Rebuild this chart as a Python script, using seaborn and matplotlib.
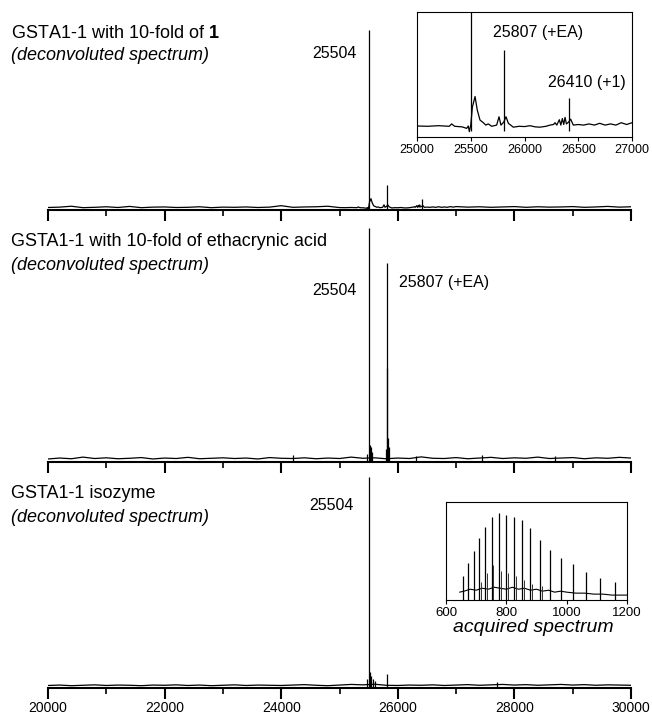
import numpy as np
import pandas as pd
import seaborn as sns
import matplotlib.pyplot as plt
from matplotlib.ticker import MultipleLocator

W, H = 652, 717

### data (intensities in % of the 25504 peak)
# panel 1: GSTA1-1 with 10-fold of 1 (detailed between 25000 and 27000 for the inset)
p1_mass = [20000, 20200, 20400, 20600, 20800, 21000, 21200, 21400, 21600, 21800,
           22000, 22200, 22400, 22600, 22800, 23000, 23200, 23400, 23600, 23800,
           24000, 24200, 24400, 24600, 24800,
           25000, 25100, 25200, 25300, 25322, 25350, 25420, 25462, 25477, 25487,
           25500, 25515, 25540, 25561, 25586, 25617, 25640, 25663, 25695, 25741,
           25763, 25781, 25807, 25828, 25850, 25896, 25950, 26000, 26051, 26100,
           26144, 26200, 26237, 26270, 26284, 26300, 26324, 26338, 26352, 26365,
           26377, 26390, 26410, 26429, 26454, 26500, 26550, 26600, 26650, 26700,
           26750, 26800, 26850, 26900, 26950, 27000,
           27200, 27400, 27600, 27800, 28000, 28200, 28400, 28600, 28800, 29000,
           29200, 29400, 29600, 29800, 30000]
p1_int = [0.9, 1.1, 1.6, 0.8, 1.0, 1.3, 0.9, 1.5, 0.8, 1.1,
          1.2, 0.9, 1.0, 1.3, 0.8, 1.1, 1.0, 1.2, 0.9, 1.1,
          1.9, 1.0, 1.2, 1.3, 1.6,
          0.85, 0.8, 0.9, 0.8, 1.2, 0.8, 0.7, 0.45, 0.85, -0.1,
          1.0, 4.0, 5.8, 3.5, 1.85, 1.4, 1.0, 1.2, 0.8, 1.0,
          2.4, 1.0, 1.5, 2.4, 1.3, 0.65, 0.8, 0.75, 0.9, 0.7,
          0.65, 0.8, 1.0, 1.1, 1.4, 1.0, 1.9, 1.0, 2.1, 1.1,
          2.3, 1.2, 1.5, 2.0, 1.0, 1.1, 1.0, 1.2, 1.0, 1.3,
          1.0, 1.2, 1.0, 1.4, 1.1, 1.4,
          1.1, 1.3, 1.0, 1.2, 1.4, 1.0, 1.3, 1.1, 1.2, 1.4,
          1.0, 1.2, 1.5, 1.1, 1.3]
p1_peak_mass = [25504, 25807, 26410]
p1_peak_int = [100, 13.6, 5.5]

# panels 2 and 3 share a 200 Da baseline grid
grid_mass = list(range(20000, 30001, 200))

# panel 2: GSTA1-1 with 10-fold of ethacrynic acid
p2_int = [0.8, 1.2, 0.9, 1.6, 1.0, 1.3, 0.9, 1.1, 1.4, 0.8,
          1.2, 1.0, 1.5, 0.9, 1.1, 1.3, 1.0, 1.2, 0.8, 1.4,
          1.1, 1.0, 1.3, 0.9, 1.2, 1.0, 1.6, 1.1, 1.3, 0.9,
          1.2, 1.0, 1.7, 1.1, 1.0, 1.4, 0.9, 1.2, 1.5, 1.0,
          1.3, 1.1, 1.6, 1.0, 1.2, 1.4, 0.9, 1.3, 1.1, 1.5,
          1.2]
p2_peak_mass = [24210, 25480, 25504, 25520, 25535, 25560, 25790, 25807, 25815,
                25830, 25850, 26320, 27450, 28700]
p2_peak_int = [2.5, 3, 100, 7, 6, 4, 5, 85, 40, 10, 6, 2.2, 2.4, 2.0]

# panel 3: GSTA1-1 isozyme
p3_int = [0.7, 0.9, 0.6, 0.8, 1.0, 0.7, 0.9, 0.8, 0.6, 0.9,
          0.8, 1.0, 0.7, 0.9, 0.6, 0.8, 1.0, 0.7, 0.9, 0.8,
          0.7, 0.9, 1.1, 0.8, 0.6, 0.9, 1.2, 1.0, 1.3, 0.8,
          0.7, 0.9, 0.8, 1.0, 0.7, 0.9, 1.1, 0.8, 1.0, 1.2,
          0.9, 1.1, 0.8, 1.0, 1.2, 0.9, 1.1, 0.8, 1.0, 0.9,
          0.8]
p3_peak_mass = [25480, 25504, 25530, 25545, 25570, 25610, 25807, 27700]
p3_peak_int = [4, 100, 7, 5, 4, 3, 6, 2.5]

# acquired (ESI) spectrum, m/z
acq_mz = [645, 660, 680, 700, 720, 740, 760, 780, 800, 820, 840, 860, 880,
          900, 920, 940, 960, 980, 1000, 1030, 1060, 1090, 1120, 1150, 1180, 1200]
acq_int = [8, 9, 11, 10, 12, 11, 13, 12, 11, 13, 11, 12, 10,
           11, 9, 10, 8, 9, 8, 7, 7, 6, 6, 5, 5, 5]
acq_peak_mz = [655, 674, 692, 710, 730, 751, 775, 799, 825, 852, 880, 912,
               945, 982, 1021, 1063, 1110, 1159]
acq_peak_int = [24.5, 38, 50, 63, 74, 85, 89, 87, 85, 82, 73, 61,
                51, 43, 37, 29, 22, 18]
acq_sat_mz = [716, 736, 757, 781, 805, 831, 858, 886, 918]
acq_sat_int = [18, 28, 36, 30, 28, 24, 20, 16, 14]

### style
sns.set_style('white')
plt.rcParams['font.family'] = ['Liberation Sans', 'DejaVu Sans']
plt.rcParams['mathtext.fontset'] = 'custom'
plt.rcParams['mathtext.rm'] = 'Liberation Sans'
plt.rcParams['mathtext.bf'] = 'Liberation Sans:bold'
plt.rcParams['text.color'] = 'black'
plt.rcParams['xtick.color'] = 'black'
plt.rcParams['xtick.labelcolor'] = 'black'

fig = plt.figure(figsize=(W / 100, H / 100), dpi=100)


def rect(x0, y0, x1, y1):
    # pixel box (top-left origin) -> figure fraction
    return [x0 / W, 1 - y1 / H, (x1 - x0) / W, (y1 - y0) / H]


def spectrum(ax, mass, inten, pk_mass, pk_int, lw=0.9):
    df = pd.DataFrame({'mass': mass, 'intensity': inten})
    sns.lineplot(data=df, x='mass', y='intensity', ax=ax, color='black',
                 lw=lw, estimator=None)
    ax.vlines(pk_mass, 0, pk_int, color='black', lw=lw)
    ax.set(xlabel='', ylabel='')


def main_axis(ax, labels=False):
    ax.set_xlim(20000, 30000)
    ax.set_ylim(-0.5, 100.5)
    for s in ['top', 'left', 'right']:
        ax.spines[s].set_visible(False)
    ax.spines['bottom'].set_linewidth(1.5)
    ax.spines['bottom'].set_color('black')
    ax.set_yticks([])
    ax.xaxis.set_major_locator(MultipleLocator(2000))
    ax.xaxis.set_minor_locator(MultipleLocator(1000))
    ax.tick_params(axis='x', which='major', direction='out', length=8, width=1.5,
                   bottom=True, labelsize=10, labelbottom=labels, pad=1.5)
    ax.tick_params(axis='x', which='minor', direction='out', length=4, width=1.2,
                   bottom=True)
    ax.patch.set_alpha(0)


def label(x, y, s, ha='left', size=13, **kw):
    fig.text(x / W, 1 - y / H, s, ha=ha, va='center', fontsize=size, **kw)


# panel 1
ax1 = fig.add_axes(rect(48, 29, 631, 210))
spectrum(ax1, p1_mass, p1_int, p1_peak_mass, p1_peak_int)
main_axis(ax1)
label(11, 33, r'GSTA1-1 with 10-fold of $\mathbf{1}$')
label(11, 56, '(deconvoluted spectrum)', style='italic')
label(357, 54, '25504', ha='right', size=11.5)

# inset of panel 1
axi = fig.add_axes(rect(417, 12, 632, 137))
spectrum(axi, p1_mass, p1_int, p1_peak_mass, p1_peak_int, lw=0.9)
axi.set_xlim(25000, 27000)
axi.set_ylim(-1, 20)
axi.set_yticks([])
axi.xaxis.set_major_locator(MultipleLocator(500))
axi.tick_params(axis='x', direction='out', length=3, width=0.8, bottom=True,
                labelsize=9, pad=2)
for s in axi.spines.values():
    s.set_linewidth(0.8)
    s.set_color('black')
label(538, 32, '25807 (+EA)', ha='center', size=11.5)
label(587, 82, '26410 (+1)', ha='center', size=11.5)

# panel 2
ax2 = fig.add_axes(rect(48, 227, 631, 462))
spectrum(ax2, grid_mass, p2_int, p2_peak_mass, p2_peak_int)
main_axis(ax2)
label(11, 242, 'GSTA1-1 with 10-fold of ethacrynic acid')
label(11, 265, '(deconvoluted spectrum)', style='italic')
label(357, 290, '25504', ha='right', size=11.5)
label(399, 283, '25807 (+EA)', size=11.5)

# panel 3
ax3 = fig.add_axes(rect(48, 476, 631, 688))
spectrum(ax3, grid_mass, p3_int, p3_peak_mass, p3_peak_int)
main_axis(ax3, labels=True)
label(11, 494, 'GSTA1-1 isozyme')
label(11, 517, '(deconvoluted spectrum)', style='italic')
label(354, 506, '25504', ha='right', size=11.5)

# inset of panel 3: acquired spectrum
axa = fig.add_axes(rect(446, 502, 627, 600))
df_acq = pd.DataFrame({'mz': acq_mz, 'intensity': acq_int})
sns.lineplot(data=df_acq, x='mz', y='intensity', ax=axa, color='black', lw=0.8,
             estimator=None)
axa.vlines(acq_peak_mz, 0, acq_peak_int, color='black', lw=0.9)
axa.vlines(acq_sat_mz, 0, acq_sat_int, color='#333333', lw=0.7)
axa.set(xlabel='', ylabel='')
axa.set_xlim(600, 1200)
axa.set_ylim(0, 100)
axa.set_yticks([])
axa.xaxis.set_major_locator(MultipleLocator(200))
axa.tick_params(axis='x', direction='out', length=3, width=0.8, bottom=True,
                labelsize=9.5, pad=2)
for s in axa.spines.values():
    s.set_linewidth(0.8)
    s.set_color('black')
label(533, 628, 'acquired spectrum', ha='center', size=14, style='italic')

plt.savefig('out.png', dpi=100)
